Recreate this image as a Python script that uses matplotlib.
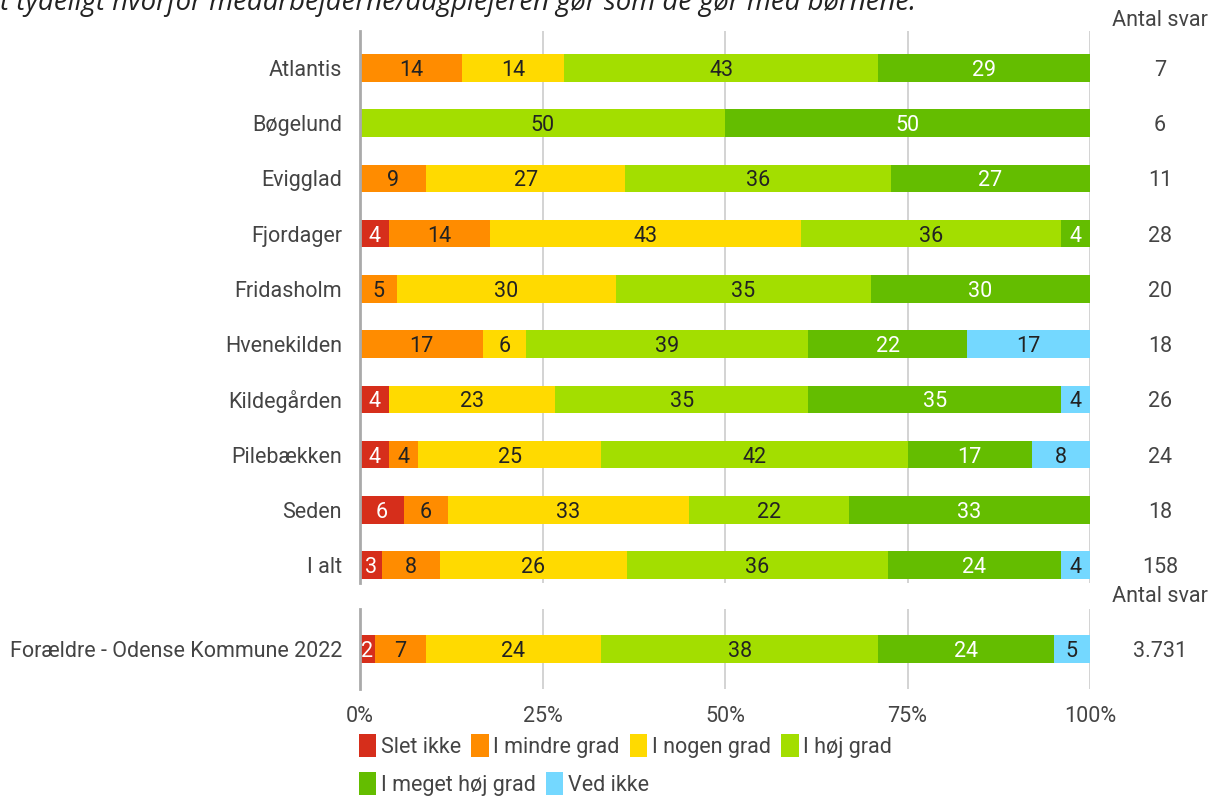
import matplotlib.pyplot as plt
from matplotlib.patches import Patch
import numpy as np

plt.rcParams['font.family'] = ['Roboto', 'DejaVu Sans']

categories = ['Atlantis', 'Bøgelund', 'Evigglad', 'Fjordager', 'Fridasholm',
              'Hvenekilden', 'Kildegården', 'Pilebækken', 'Seden', 'I alt']
antal = ['7', '6', '11', '28', '20', '18', '26', '24', '18', '158']

answers = ['Slet ikke', 'I mindre grad', 'I nogen grad', 'I høj grad',
           'I meget høj grad', 'Ved ikke']
colors = ['#D62E1B', '#FF8C00', '#FFDA00', '#A3DE00', '#64BD00', '#74D8FF']
text_colors = ['white', '#222222', '#222222', '#222222', 'white', '#222222']

# percentages per answer (columns follow `answers`)
values = [
    [0, 14, 14, 43, 29, 0],
    [0, 0, 0, 50, 50, 0],
    [0, 9, 27, 36, 27, 0],
    [4, 14, 43, 36, 4, 0],
    [0, 5, 30, 35, 30, 0],
    [0, 17, 6, 39, 22, 17],
    [4, 0, 23, 35, 35, 4],
    [4, 4, 25, 42, 17, 8],
    [6, 6, 33, 22, 33, 0],
    [3, 8, 26, 36, 24, 4],
]

ref_label = 'Forældre - Odense Kommune 2022'
ref_values = [2, 7, 24, 38, 24, 5]
ref_antal = '3.731'

FS = 15.5
W, H = 1216, 798
fig = plt.figure(figsize=(W / 100, H / 100), dpi=100)

left = 360 / W
width = 730 / W
ax1 = fig.add_axes([left, 1 - 583 / H, width, (583 - 31) / H])
ax2 = fig.add_axes([left, 1 - 689 / H, width, (689 - 609) / H])


def draw_rows(ax, rows, labels, counts):
    rows = np.array(rows, dtype=float)
    raw = rows.astype(int)
    rows = rows / rows.sum(axis=1, keepdims=True) * 100
    y = np.arange(len(rows))
    lefts = np.zeros(len(rows))
    for j in range(rows.shape[1]):
        ax.barh(y, rows[:, j], left=lefts, height=0.5, color=colors[j],
                zorder=3, linewidth=0)
        for i in range(len(rows)):
            if rows[i, j] > 0:
                ax.text(lefts[i] + rows[i, j] / 2, y[i], str(raw[i, j]),
                        ha='center', va='center_baseline', fontsize=FS,
                        color=text_colors[j], zorder=4)
        lefts += rows[:, j]
    ax.set_xlim(0, 100)
    ax.set_yticks(y)
    ax.set_yticklabels(labels, fontsize=FS, color='#444444')
    ax.tick_params(axis='y', length=0, pad=13)
    ax.tick_params(axis='x', length=0)
    ax.set_xticks([0, 25, 50, 75, 100])
    ax.grid(axis='x', color='#cccccc', linewidth=1.2, zorder=0)
    for s in ['top', 'right', 'bottom']:
        ax.spines[s].set_visible(False)
    ax.spines['left'].set_color('#aaaaaa')
    ax.spines['left'].set_linewidth(2)
    ax.spines['left'].set_zorder(5)
    for i, c in enumerate(counts):
        fy = ax.transData.transform((0, y[i]))[1]
        fig.text(1160 / W, fy / fig.dpi / fig.get_figheight(), c,
                 ha='center', va='center_baseline', fontsize=FS,
                 color='#444444')


ax1.set_ylim(9 + 18 / 55.2, -37 / 55.2)
ax2.set_ylim(0.73, -0.73)
fig.canvas.draw()
draw_rows(ax1, values, categories, antal)
draw_rows(ax2, [ref_values], [ref_label], [ref_antal])
ax1.set_xticklabels([])
ax2.set_xticklabels(['0%', '25%', '50%', '75%', '100%'], fontsize=FS,
                    color='#444444')
ax2.tick_params(axis='x', pad=12)

fig.text(1160 / W, 1 - 20 / H, 'Antal svar', ha='center', va='center',
         fontsize=FS, color='#444444')
fig.text(1160 / W, 1 - 597 / H, 'Antal svar', ha='center', va='center',
         fontsize=FS, color='#444444')

# title line is cropped at the top edge in the reference
fig.text(0, 1 - 10 / H,
         't tydeligt hvorfor medarbejderne/dagplejeren gør som de gør med børnene.',
         ha='left', va='baseline', fontsize=19.8, color='#222222',
         style='italic', family=['Open Sans', 'DejaVu Sans'])

handles = [Patch(facecolor=c, edgecolor='none') for c in colors]
leg_kw = dict(frameon=False, fontsize=FS, handlelength=0.8, handleheight=1.3,
              handletextpad=0.2, columnspacing=0.5, borderaxespad=0,
              borderpad=0, labelcolor='#444444')
leg1 = fig.legend(handles[:4], answers[:4], ncol=4, loc='center left',
                  bbox_to_anchor=(359 / W, 1 - 746 / H), **leg_kw)
leg2 = fig.legend(handles[4:], answers[4:], ncol=2, loc='center left',
                  bbox_to_anchor=(359 / W, 1 - 784 / H), **leg_kw)

fig.savefig('out.png', dpi=100)
